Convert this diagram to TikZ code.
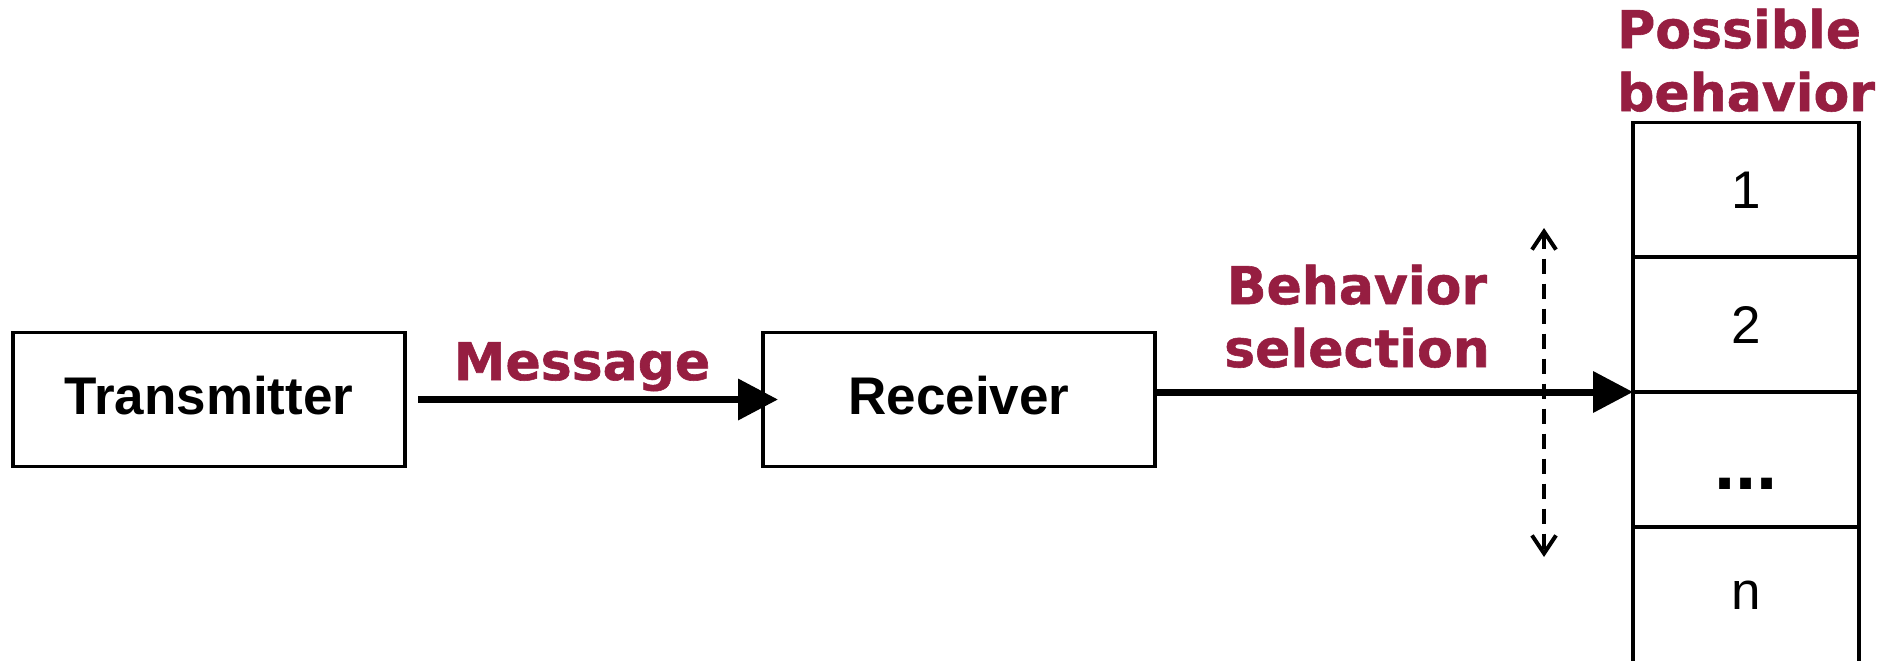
\documentclass[tikz,border=0pt]{standalone}
\usepackage{fontspec}
\newfontfamily\helv{Liberation Sans}
\newfontfamily\verd[BoldFont={DejaVu Sans Bold}, BoldFeatures={FakeBold=1.1}]{DejaVu Sans}
\usetikzlibrary{arrows.meta}
\definecolor{wine}{RGB}{150,30,65}
\begin{document}
\begin{tikzpicture}[x=1pt,y=-1pt,
  block/.style={draw, line width=3.2pt, inner sep=0pt, outer sep=0pt,
    minimum width=392pt, minimum height=134pt,
    text height=38pt, text depth=9pt,
    font=\helv\bfseries\fontsize{53}{60}\selectfont},
  cell/.style={draw, line width=3.4pt, inner sep=0pt, outer sep=0pt,
    minimum width=226pt, minimum height=135pt,
    font=\helv\fontsize{53}{60}\selectfont},
  tag/.style={text=wine, inner sep=0pt,
    font=\verd\bfseries\fontsize{52}{63}\selectfont},
  flow/.style={line width=7pt, -{Triangle[length=40pt,width=40pt]}},
  spanline/.style={line width=4pt, dash pattern=on 15pt off 10pt,
    {Straight Barb[length=18pt,width=24pt]}-{Straight Barb[length=18pt,width=24pt]}}
]
\useasboundingbox (0,0) rectangle (1903,661);

% sender and receiver
\node[block] (tx) at (209,399.5) {Transmitter};
\node[block] (rx) at (959,399.5) {Receiver};

% column of possible behaviours
\node[cell] (c1) at (1746,190) {1};
\node[cell] (c2) at (1746,324.5) {2};
\node[cell, font=\helv\bfseries\fontsize{76}{80}\selectfont,
      text height=59pt, text depth=0pt] (c3) at (1746,459.5) {...};
\node[cell] (c4) at (1746,595) {n};

% connectors
\draw[flow] ([xshift=13pt]tx.east) -- ([xshift=15pt]rx.west);
\draw[flow] (rx.east |- c3.north west) -- (c3.north west);

\coordinate (rtop) at (1544,228);
\coordinate (rbot) at (1544,557);
\draw[spanline] (rtop) -- (rbot);

% labels
\node[tag, anchor=base] (msg) at (582,380) {Message};
\node[tag, align=center, anchor=south] (sel) at (1357,368) {Behavior\\selection};
\node[tag, align=left, anchor=south west] (poss) at (1617,112) {Possible\\behavior};
\end{tikzpicture}
\end{document}
